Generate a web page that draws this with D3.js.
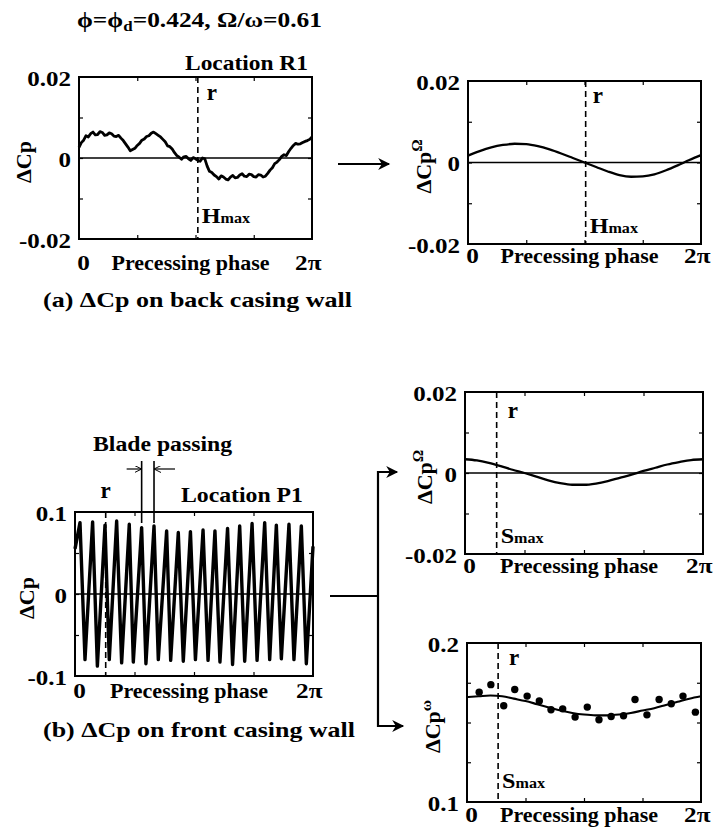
<!DOCTYPE html>
<html>
<head>
<meta charset="utf-8">
<script src="https://cdn.jsdelivr.net/npm/d3@7"></script>
<style>
  body { margin: 0; background: #fff; }
  svg { display: block; }
  text { font-family: "Liberation Serif", "Times New Roman", serif; font-weight: bold; fill: #000; }
</style>
</head>
<body>
<svg id="chart" width="714" height="836"></svg>
<script>
// phase is read as a fraction of one precessing cycle (0 .. 2pi)

// (a) back casing wall, location R1, raw delta Cp
var phaseR1 = d3.range(0, 101).map(function(i) { return i / 100; });
var cpR1 = [0.0026, 0.0038, 0.0044, 0.0055, 0.0052, 0.0060, 0.0064, 0.0057, 0.0058, 0.0065,
	0.0063, 0.0056, 0.0057, 0.0062, 0.0060, 0.0054, 0.0053, 0.0056, 0.0049, 0.0043,
	0.0035, 0.0027, 0.0018, 0.0021, 0.0024, 0.0031, 0.0036, 0.0044, 0.0047, 0.0053,
	0.0055, 0.0061, 0.0064, 0.0060, 0.0056, 0.0052, 0.0046, 0.0040, 0.0030, 0.0028,
	0.0022, 0.0013, 0.0006, 0.0002, -0.0003, 0.0003, 0.0004, -0.0002, -0.0006, 0.0001,
	-0.0002, -0.0006, -0.0008, 0.0000, -0.0002, -0.0020, -0.0033, -0.0036, -0.0042, -0.0046,
	-0.0052, -0.0044, -0.0047, -0.0052, -0.0054, -0.0047, -0.0043, -0.0049, -0.0048, -0.0042,
	-0.0039, -0.0045, -0.0046, -0.0040, -0.0041, -0.0046, -0.0047, -0.0041, -0.0042, -0.0047,
	-0.0045, -0.0038, -0.0030, -0.0024, -0.0014, -0.0010, -0.0004, 0.0004, 0.0008, 0.0006,
	0.0016, 0.0024, 0.0031, 0.0036, 0.0034, 0.0035, 0.0038, 0.0041, 0.0043, 0.0046,
	0.0052];

// (a) precessing frequency component
var phaseR1Omega = [0, 0.05, 0.10, 0.15, 0.20, 0.25, 0.30, 0.35, 0.40, 0.45, 0.50, 0.55, 0.60, 0.65, 0.70,
	0.75, 0.80, 0.85, 0.90, 0.95, 1.00];
var cpR1Omega = [0.0017, 0.0028, 0.0037, 0.0043, 0.0046, 0.0045, 0.0040, 0.0032, 0.0022, 0.0011, 0.0000,
	-0.0011, -0.0022, -0.0031, -0.0035, -0.0034, -0.0029, -0.0019, -0.0007, 0.0006, 0.0018];

// (b) front casing wall, location P1, blade passing signal
var bladeStart = [0, 0.055];
var bladeEnd = [1, 0.058];
var bladePeakPhase = [0.021, 0.074, 0.126, 0.175, 0.228, 0.280, 0.332, 0.385, 0.434, 0.485, 0.538, 0.588,
	0.641, 0.692, 0.744, 0.797, 0.846, 0.899, 0.951];
var bladePeakCp = [0.087, 0.088, 0.084, 0.089, 0.085, 0.081, 0.083, 0.077, 0.075, 0.076, 0.078, 0.077,
	0.080, 0.083, 0.086, 0.087, 0.084, 0.085, 0.083];
var bladeTroughPhase = [0.042, 0.094, 0.144, 0.196, 0.245, 0.298, 0.350, 0.402, 0.455, 0.506, 0.559, 0.609,
	0.662, 0.713, 0.765, 0.818, 0.867, 0.920, 0.972];
var bladeTroughCp = [-0.080, -0.088, -0.080, -0.084, -0.083, -0.085, -0.080, -0.081, -0.082, -0.080, -0.081,
	-0.083, -0.086, -0.082, -0.081, -0.080, -0.079, -0.080, -0.085];

// (b) precessing frequency component
var phaseP1Omega = [0, 0.05, 0.10, 0.15, 0.20, 0.25, 0.30, 0.35, 0.40, 0.45, 0.50, 0.55, 0.60, 0.65, 0.70,
	0.75, 0.80, 0.85, 0.90, 0.95, 1.00];
var cpP1Omega = [0.0034, 0.0031, 0.0025, 0.0017, 0.0008, 0.0000, -0.0009, -0.0018, -0.0025, -0.0029, -0.0029,
	-0.0026, -0.0020, -0.0012, -0.0004, 0.0005, 0.0013, 0.0021, 0.0027, 0.0032, 0.0034];

// (b) blade passing frequency component: fit and measured points
var phaseP1omega = phaseP1Omega;
var cpP1omega = [0.1660, 0.1665, 0.1670, 0.1665, 0.1650, 0.1635, 0.1615, 0.1595, 0.1575, 0.1560, 0.1550,
	0.1545, 0.1545, 0.1550, 0.1560, 0.1575, 0.1590, 0.1610, 0.1630, 0.1650, 0.1665];
var dotPhase = [0.052, 0.102, 0.157, 0.204, 0.257, 0.309, 0.359, 0.409, 0.462, 0.514, 0.564, 0.616, 0.669,
	0.718, 0.769, 0.821, 0.873, 0.923, 0.976];
var dotCp = [0.1691, 0.1738, 0.1605, 0.1708, 0.1666, 0.1635, 0.1580, 0.1586, 0.1534, 0.1597, 0.1517, 0.1538,
	0.1542, 0.1645, 0.1548, 0.1645, 0.1618, 0.1666, 0.1565];

// phase of the r line in each panel
var rPhase = { R1: 0.51, R1Omega: 0.505, P1: 0.129, P1Omega: 0.133, P1omega: 0.133 };

var svg = d3.select("#chart");

// the scanned lettering is wider than the font, so widen it a little
function stretch(sel, k) {
	sel.each(function() {
		var w = this.getComputedTextLength();
		d3.select(this).attr("textLength", w * k).attr("lengthAdjust", "spacingAndGlyphs");
	});
	return sel;
}
function fit(sel, w) {
	return sel.attr("textLength", w).attr("lengthAdjust", "spacingAndGlyphs");
}

var defs = svg.append("defs");
defs.append("marker")
	.attr("id", "head")
	.attr("viewBox", "0 0 10 10")
	.attr("refX", 9).attr("refY", 5)
	.attr("markerWidth", 15).attr("markerHeight", 12)
	.attr("markerUnits", "userSpaceOnUse")
	.attr("orient", "auto")
	.append("path").attr("d", "M0,0 L10,5 L0,10 L3,5 Z").attr("fill", "#000");

defs.append("marker")
	.attr("id", "open")
	.attr("viewBox", "0 0 10 10")
	.attr("refX", 10).attr("refY", 5)
	.attr("markerWidth", 7).attr("markerHeight", 7)
	.attr("markerUnits", "userSpaceOnUse")
	.attr("orient", "auto")
	.append("path").attr("d", "M0,0 L10,5 L0,10").attr("fill", "none").attr("stroke", "#000").attr("stroke-width", 1.4);

function panel(p) {
	var x = d3.scaleLinear().domain([0, 1]).range([p.l, p.r]);
	var y = d3.scaleLinear().domain(p.domain).range([p.b, p.t]);
	var g = svg.append("g");

	// inner ticks on all four sides
	var xm = [0.25, 0.5, 0.75];
	var span = p.domain[1] - p.domain[0];
	var ym = [p.domain[0] + span / 4, p.domain[0] + span / 2, p.domain[0] + 3 * span / 4];
	[[d3.axisBottom(x), "translate(0," + p.b + ")", xm], [d3.axisTop(x), "translate(0," + p.t + ")", xm],
	 [d3.axisLeft(y), "translate(" + p.l + ",0)", ym], [d3.axisRight(y), "translate(" + p.r + ",0)", ym]].forEach(function(a) {
		var ax = g.append("g").attr("transform", a[1])
			.call(a[0].tickValues(a[2]).tickSize(-4).tickFormat(""));
		ax.select(".domain").remove();
		ax.selectAll("line").attr("stroke", "#000").attr("stroke-width", 1.2);
	});

	if (p.zero) {
		g.append("line").attr("x1", p.l).attr("x2", p.r).attr("y1", y(0)).attr("y2", y(0))
			.attr("stroke", "#000").attr("stroke-width", 1.3);
	}

	g.append("line").attr("x1", x(p.rPhase)).attr("x2", x(p.rPhase)).attr("y1", p.t).attr("y2", p.b)
		.attr("stroke", "#000").attr("stroke-width", 1.6).attr("stroke-dasharray", "6,4");

	g.append("rect").attr("x", p.l).attr("y", p.t).attr("width", p.r - p.l).attr("height", p.b - p.t)
		.attr("fill", "none").attr("stroke", "#000").attr("stroke-width", 2);

	// y tick labels
	var ay = g.append("g").attr("transform", "translate(" + p.l + ",0)")
		.call(d3.axisLeft(y).tickValues(p.yTicks).tickSize(0).tickPadding(8).tickFormat(function(d, i) { return p.yLabels[i]; }));
	ay.select(".domain").remove();
	stretch(ay.selectAll("text").attr("font-size", 20).attr("dy", "0.4em")
		.style("font-family", "'Liberation Serif', serif").style("font-weight", "bold"), 1.25);

	// x tick labels
	var ax = g.append("g").attr("transform", "translate(0," + p.b + ")")
		.call(d3.axisBottom(x).tickValues([0, 1]).tickSize(0).tickPadding(0).tickFormat(function(d) { return d ? "2\u03c0" : "0"; }));
	ax.select(".domain").remove();
	stretch(ax.selectAll("text").attr("font-size", 21).attr("dy", null).attr("y", p.xLabelY - p.b)
		.style("font-family", "'Liberation Serif', serif").style("font-weight", "bold")
		.attr("x", function(d) { return d ? 9 : 4; })
		.attr("text-anchor", function(d) { return d ? "end" : "middle"; }), 1.2);

	fit(g.append("text").attr("x", (p.l + p.r) / 2 - 5).attr("y", p.xLabelY)
		.attr("text-anchor", "middle").attr("font-size", 20).text("Precessing phase"), 158);

	// rotated y label
	var yl = g.append("text").attr("transform", "translate(" + p.yLabelX + "," + ((p.t + p.b) / 2 + 4) + ") rotate(-90)")
		.attr("text-anchor", "middle").attr("font-size", 20);
	yl.append("tspan").text("\u0394Cp");
	if (p.sup) yl.append("tspan").attr("font-size", 14).attr("dy", -9).text(p.sup);
	stretch(yl, 1.1);

	// r label above and marker label at the bottom of the r line
	g.append("text").attr("x", x(p.rPhase) + p.rDx).attr("y", p.rY)
		.attr("text-anchor", p.rDx ? "start" : "middle").attr("font-size", 23).text("r");
	if (p.mark) {
		var ml = g.append("text").attr("x", x(p.rPhase) + 4).attr("y", p.markY).attr("font-size", 21);
		ml.append("tspan").text(p.mark);
		ml.append("tspan").attr("font-size", 14).text("max");
		stretch(ml, 1.15);
	}

	return { x: x, y: y, g: g };
}

var line = d3.line();

// (a) raw
var pa = panel({ l: 79, r: 312, t: 77, b: 239, domain: [-0.02, 0.02], yTicks: [-0.02, 0, 0.02],
	yLabels: ["-0.02", "0", "0.02"], zero: true, rPhase: rPhase.R1, rDx: 9, rY: 100, markY: 223, mark: "H",
	xLabelY: 270, yLabelX: 31 });
pa.g.append("path")
	.attr("d", line(phaseR1.map(function(d, i) { return [pa.x(d), pa.y(cpR1[i])]; })))
	.attr("fill", "none").attr("stroke", "#000").attr("stroke-width", 2.8).attr("stroke-linejoin", "round");

// (a) precessing component
var pb = panel({ l: 468, r: 701, t: 81, b: 244, domain: [-0.02, 0.02], yTicks: [-0.02, 0, 0.02],
	yLabels: ["-0.02", "0", "0.02"], zero: true, rPhase: rPhase.R1Omega, rDx: 7, rY: 103, markY: 233, mark: "H",
	xLabelY: 263, yLabelX: 431, sup: "\u03a9" });
pb.g.append("path")
	.attr("d", d3.line().curve(d3.curveMonotoneX)(phaseR1Omega.map(function(d, i) { return [pb.x(d), pb.y(cpR1Omega[i])]; })))
	.attr("fill", "none").attr("stroke", "#000").attr("stroke-width", 2.3);

// (b) blade passing signal
var pc = panel({ l: 75, r: 313, t: 512, b: 676, domain: [-0.1, 0.1], yTicks: [-0.1, 0, 0.1],
	yLabels: ["-0.1", "0", "0.1"], zero: true, rPhase: rPhase.P1, rDx: 0, rY: 498, mark: null,
	xLabelY: 698, yLabelX: 34 });
var bladePts = [bladeStart];
bladePeakPhase.forEach(function(d, i) {
	bladePts.push([d, bladePeakCp[i]]);
	bladePts.push([bladeTroughPhase[i], bladeTroughCp[i]]);
});
bladePts.push(bladeEnd);
pc.g.append("path")
	.attr("d", line(bladePts.map(function(d) { return [pc.x(d[0]), pc.y(d[1])]; })))
	.attr("fill", "none").attr("stroke", "#000").attr("stroke-width", 3.4).attr("stroke-linejoin", "round");

// (b) precessing component
var pd = panel({ l: 465, r: 703, t: 392, b: 554, domain: [-0.02, 0.02], yTicks: [-0.02, 0, 0.02],
	yLabels: ["-0.02", "0", "0.02"], zero: true, rPhase: rPhase.P1Omega, rDx: 11, rY: 418, markY: 543, mark: "S",
	xLabelY: 573, yLabelX: 432, sup: "\u03a9" });
pd.g.append("path")
	.attr("d", d3.line().curve(d3.curveMonotoneX)(phaseP1Omega.map(function(d, i) { return [pd.x(d), pd.y(cpP1Omega[i])]; })))
	.attr("fill", "none").attr("stroke", "#000").attr("stroke-width", 2.3);

// (b) blade passing component
var pe = panel({ l: 467, r: 701, t: 643, b: 802, domain: [0.1, 0.2], yTicks: [0.1, 0.2],
	yLabels: ["0.1", "0.2"], zero: false, rPhase: rPhase.P1omega, rDx: 11, rY: 665, markY: 788, mark: "S",
	xLabelY: 822, yLabelX: 440, sup: "\u03c9" });
pe.g.append("path")
	.attr("d", d3.line().curve(d3.curveMonotoneX)(phaseP1omega.map(function(d, i) { return [pe.x(d), pe.y(cpP1omega[i])]; })))
	.attr("fill", "none").attr("stroke", "#000").attr("stroke-width", 2.1);
pe.g.selectAll("circle").data(dotPhase).enter().append("circle")
	.attr("cx", function(d) { return pe.x(d); })
	.attr("cy", function(d, i) { return pe.y(dotCp[i]); })
	.attr("r", 3.7).attr("fill", "#000");

// titles
var t = svg.append("text").attr("x", 77).attr("y", 27).attr("font-size", 21);
t.append("tspan").text("\u03d5=\u03d5");
t.append("tspan").attr("font-size", 14).attr("dy", 4).text("d");
t.append("tspan").attr("dy", -4).text("=0.424, \u03a9/\u03c9=0.61");
fit(t, 245);

fit(svg.append("text").attr("x", 308).attr("y", 70).attr("text-anchor", "end").attr("font-size", 21).text("Location R1"), 123);
fit(svg.append("text").attr("x", 303).attr("y", 502).attr("text-anchor", "end").attr("font-size", 21).text("Location P1"), 122);
fit(svg.append("text").attr("x", 43).attr("y", 307).attr("font-size", 21).text("(a) \u0394Cp on back casing wall"), 309);
fit(svg.append("text").attr("x", 43).attr("y", 737).attr("font-size", 21).text("(b) \u0394Cp on front casing wall"), 312);
fit(svg.append("text").attr("x", 93).attr("y", 451).attr("font-size", 20).text("Blade passing"), 139);

// blade passing markers
var bp = [pc.x(bladePeakPhase[5]), pc.x(bladePeakPhase[6])];
bp.forEach(function(xx) {
	svg.append("line").attr("x1", xx).attr("x2", xx).attr("y1", 461).attr("y2", 523)
		.attr("stroke", "#000").attr("stroke-width", 1.6);
});
svg.append("line").attr("x1", bp[0] - 15).attr("x2", bp[0]).attr("y1", 469).attr("y2", 469)
	.attr("stroke", "#000").attr("stroke-width", 1.2).attr("marker-end", "url(#open)");
svg.append("line").attr("x1", bp[1] + 21).attr("x2", bp[1]).attr("y1", 469).attr("y2", 469)
	.attr("stroke", "#000").attr("stroke-width", 1.2).attr("marker-end", "url(#open)");

// connector arrows
function arrow(pts) {
	svg.append("path").attr("d", d3.line()(pts)).attr("fill", "none").attr("stroke", "#000")
		.attr("stroke-width", 2.2).attr("marker-end", "url(#head)");
}
arrow([[338, 164], [389, 164]]);
svg.append("path").attr("d", d3.line()([[330, 596], [378, 596]])).attr("stroke", "#000").attr("stroke-width", 2.2);
arrow([[378, 596], [378, 472], [397, 472]]);
arrow([[378, 596], [378, 726], [403, 726]]);
</script>
</body>
</html>
